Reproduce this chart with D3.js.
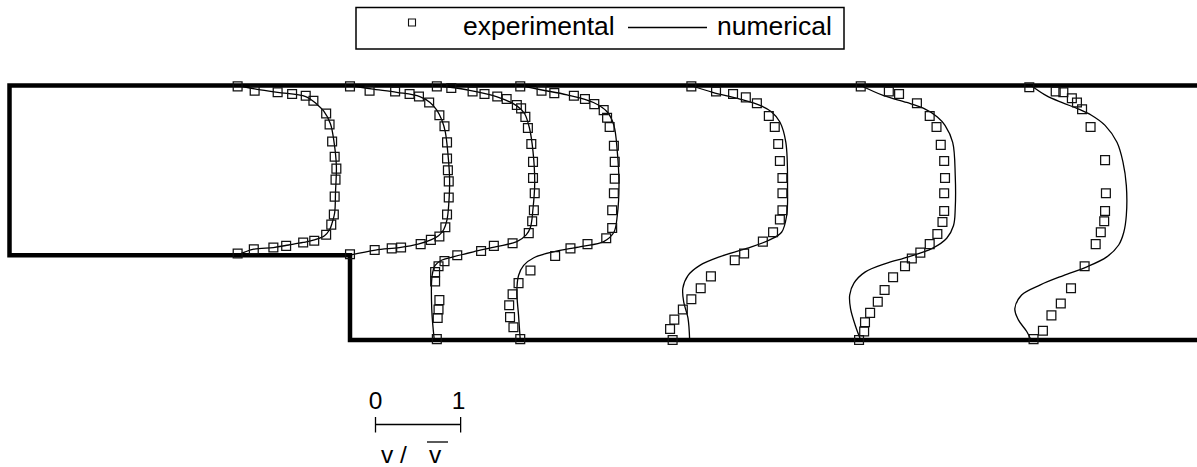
<!DOCTYPE html>
<html>
<head>
<meta charset="utf-8">
<script src="https://cdn.jsdelivr.net/npm/d3@7"></script>
<style>
  html, body { margin: 0; padding: 0; background: #fff; }
  svg { display: block; font-family: "Liberation Sans", Arial, Helvetica, sans-serif; }
</style>
</head>
<body>
<svg id="chart" width="1197" height="467"></svg>
<script>
// Backward-facing step: stream-wise velocity profiles v / v̄ at several stations.
// Lengths are in step heights h; the step edge is at x = 0, the lower wall at y = 0.

const channelOutline = [[10, 3], [-4, 3], [-4, 1], [0, 1], [0, 0], [10, 0]];

// measurement stations x/h
const stations = [-1.32, 0, 1.02, 2, 4, 6, 8];

// experimental points, [y/h, v/v̄]
const exp1 = [[2.99,0],[2.94,0.2],[2.92,0.47],[2.9,0.64],[2.88,0.8],[2.82,0.89],[2.67,1.04],[2.54,1.08],[2.34,1.11],[2.16,1.14],[2.02,1.16],[1.89,1.15],[1.69,1.14],[1.48,1.13],[1.36,1.1],[1.24,1.04],[1.17,0.9],[1.15,0.77],[1.11,0.57],[1.09,0.42],[1.07,0.19],[1.02,0]];
const exp2 = [[2.99,0],[2.94,0.23],[2.93,0.53],[2.9,0.7],[2.87,0.81],[2.8,0.93],[2.65,1.05],[2.52,1.11],[2.33,1.14],[2.14,1.14],[2.0,1.15],[1.87,1.16],[1.68,1.16],[1.48,1.14],[1.33,1.12],[1.22,1.05],[1.18,0.95],[1.13,0.83],[1.09,0.6],[1.08,0.49],[1.06,0.29],[1.01,0]];
const exp3 = [[2.99,0],[2.97,0.17],[2.93,0.42],[2.9,0.56],[2.87,0.71],[2.84,0.82],[2.77,0.94],[2.73,0.99],[2.63,1.04],[2.5,1.07],[2.31,1.11],[2.1,1.13],[1.91,1.13],[1.73,1.15],[1.53,1.14],[1.4,1.12],[1.26,1.08],[1.14,0.89],[1.11,0.67],[1.05,0.52],[1.0,0.24],[0.93,0.09],[0.87,0.02],[0.8,-0.02],[0.69,-0.02],[0.47,0.03],[0.36,0.02],[0.26,0.01],[0.01,0]];
const exp4 = [[2.99,0],[2.94,0.25],[2.91,0.4],[2.88,0.63],[2.84,0.76],[2.78,0.87],[2.71,0.98],[2.62,1.02],[2.51,1.05],[2.29,1.1],[2.1,1.11],[1.9,1.11],[1.73,1.1],[1.53,1.08],[1.32,1.08],[1.2,1.01],[1.13,0.79],[1.08,0.59],[0.99,0.41],[0.82,0.12],[0.67,-0.02],[0.54,-0.09],[0.41,-0.13],[0.27,-0.12],[0.15,-0.08],[0.01,0]];
const exp5 = [[2.99,0.01],[2.93,0.3],[2.9,0.5],[2.86,0.65],[2.79,0.78],[2.64,0.92],[2.51,0.99],[2.31,1.03],[2.11,1.05],[1.91,1.08],[1.73,1.08],[1.53,1.08],[1.42,1.05],[1.27,0.97],[1.16,0.85],[1.02,0.63],[0.94,0.52],[0.75,0.24],[0.61,0.12],[0.48,0.01],[0.36,-0.09],[0.24,-0.19],[0.13,-0.24],[0.0,-0.21]];
const exp6 = [[2.99,0],[2.93,0.33],[2.9,0.45],[2.79,0.66],[2.64,0.81],[2.51,0.89],[2.3,0.94],[2.11,0.98],[1.91,0.99],[1.73,0.98],[1.52,0.98],[1.39,0.96],[1.25,0.9],[1.13,0.81],[1.03,0.7],[0.96,0.6],[0.87,0.52],[0.74,0.38],[0.59,0.28],[0.45,0.2],[0.32,0.11],[0.21,0.05],[0.1,0.04],[0.0,-0.02]];
const exp7 = [[2.98,-0.02],[2.93,0.29],[2.92,0.38],[2.85,0.48],[2.8,0.54],[2.72,0.6],[2.51,0.7],[2.12,0.87],[1.73,0.88],[1.52,0.87],[1.4,0.86],[1.27,0.82],[1.13,0.76],[0.87,0.63],[0.61,0.47],[0.43,0.35],[0.29,0.24],[0.11,0.14],[0.01,0.03]];

// numerical profiles, [y/h, v/v̄]
const num1 = [[3,0],[2.96,0.2],[2.92,0.47],[2.87,0.8],[2.78,0.93],[2.7,1.01],[2.55,1.09],[2.35,1.13],[2.05,1.16],[1.75,1.15],[1.5,1.14],[1.38,1.11],[1.3,1.08],[1.23,1.02],[1.18,0.9],[1.15,0.77],[1.12,0.6],[1.09,0.42],[1.07,0.19],[1,0]];
const num2 = [[3,0],[2.96,0.25],[2.92,0.55],[2.87,0.82],[2.8,0.94],[2.71,1.02],[2.59,1.08],[2.45,1.12],[2.2,1.15],[1.9,1.17],[1.6,1.16],[1.42,1.14],[1.3,1.1],[1.23,1.04],[1.18,0.95],[1.13,0.8],[1.09,0.58],[1.06,0.3],[1,0]];
const num3 = [[3,0],[2.95,0.35],[2.87,0.7],[2.76,0.94],[2.67,1.03],[2.49,1.09],[2.22,1.13],[1.86,1.15],[1.55,1.13],[1.33,1.1],[1.24,1.05],[1.16,0.94],[1.1,0.7],[1.04,0.43],[0.98,0.19],[0.94,0.055],[0.88,-0.02],[0.76,-0.055],[0.37,-0.06],[0,-0.03]];
const num4 = [[3,0],[2.95,0.24],[2.89,0.55],[2.8,0.86],[2.69,1.02],[2.53,1.1],[2.22,1.14],[1.82,1.16],[1.47,1.14],[1.27,1.1],[1.16,0.98],[1.1,0.71],[1.04,0.39],[0.97,0.16],[0.88,0.04],[0.76,-0.02],[0.57,-0.04],[0.29,-0.02],[0,0]];
const num5 = [[3,0],[2.92,0.26],[2.84,0.58],[2.76,0.83],[2.69,0.95],[2.57,1.05],[2.33,1.12],[1.78,1.14],[1.47,1.13],[1.27,1.07],[1.18,0.93],[1.08,0.66],[0.98,0.34],[0.88,0.11],[0.76,-0.03],[0.61,-0.09],[0.45,-0.08],[0.26,-0.03],[0,-0.01]];
const num6 = [[3,0],[2.88,0.27],[2.8,0.54],[2.73,0.74],[2.63,0.9],[2.53,0.99],[2.33,1.08],[1.94,1.11],[1.55,1.11],[1.35,1.09],[1.2,1.01],[1.08,0.84],[0.98,0.56],[0.9,0.29],[0.8,0.05],[0.67,-0.08],[0.53,-0.13],[0.37,-0.12],[0.16,-0.06],[0,0]];
const num7 = [[3,0],[2.88,0.18],[2.8,0.36],[2.73,0.54],[2.65,0.71],[2.53,0.87],[2.33,1.01],[2.1,1.08],[1.82,1.12],[1.47,1.12],[1.27,1.09],[1.12,1.03],[0.98,0.89],[0.86,0.65],[0.76,0.38],[0.65,0.11],[0.53,-0.11],[0.37,-0.19],[0.24,-0.15],[0.1,-0.05],[0,0]];

const legendLabels = ["experimental", "numerical"];
const scaleTicks = [0, 1];
const scaleTitle = ["v /", "v"];

const experimental = [exp1, exp2, exp3, exp4, exp5, exp6, exp7];
const numerical = [num1, num2, num3, num4, num5, num6, num7];

const svg = d3.select("#chart");

// one scale for x/h and for the velocity offsets, one for y/h
const xScale = d3.scaleLinear().domain([0, 8]).range([350, 1031]);
const yScale = d3.scaleLinear().domain([0, 3]).range([340, 85.5]);

// channel walls
svg.append("path")
  .attr("d", d3.line().x(d => xScale(d[0])).y(d => yScale(d[1]))(channelOutline))
  .attr("fill", "none")
  .attr("stroke", "#000")
  .attr("stroke-width", 4.5)
  .attr("stroke-linejoin", "miter");

// numerical curves
const profileLine = st => d3.line()
  .x(d => xScale(st + d[1]))
  .y(d => yScale(d[0]))
  .curve(d3.curveCatmullRom.alpha(0.5));

svg.append("g").selectAll("path")
  .data(numerical)
  .join("path")
  .attr("d", (d, i) => profileLine(stations[i])(d))
  .attr("fill", "none")
  .attr("stroke", "#000")
  .attr("stroke-width", 1.3);

// experimental points
const square = d3.symbol().type(d3.symbolSquare).size(78);
experimental.forEach((pts, i) => {
  svg.append("g").selectAll("path")
    .data(pts)
    .join("path")
    .attr("d", square)
    .attr("transform", d => `translate(${xScale(stations[i] + d[1])},${yScale(d[0])})`)
    .attr("fill", "none")
    .attr("stroke", "#111")
    .attr("stroke-width", 1.25);
});

// legend
const legend = svg.append("g");
legend.append("rect")
  .attr("x", 356).attr("y", 7.5).attr("width", 488).attr("height", 41.5)
  .attr("fill", "#fff").attr("stroke", "#000").attr("stroke-width", 1.5);
legend.append("path")
  .attr("d", d3.symbol().type(d3.symbolSquare).size(49)())
  .attr("transform", "translate(412,22.5)")
  .attr("fill", "none").attr("stroke", "#111").attr("stroke-width", 1.1);
legend.append("text")
  .attr("x", 463).attr("y", 35)
  .attr("font-size", 26.5).attr("fill", "#000")
  .text(legendLabels[0]);
legend.append("line")
  .attr("x1", 628).attr("x2", 707).attr("y1", 27.5).attr("y2", 27.5)
  .attr("stroke", "#000").attr("stroke-width", 1.3);
legend.append("text")
  .attr("x", 717).attr("y", 35)
  .attr("font-size", 26.5).attr("fill", "#000")
  .text(legendLabels[1]);

// velocity scale bar: one unit of v / v̄
const unit = xScale(1) - xScale(0);
const barScale = d3.scaleLinear().domain([0, 1]).range([375.5, 375.5 + unit]);
const bar = svg.append("g");
bar.append("line")
  .attr("x1", barScale(0)).attr("x2", barScale(1))
  .attr("y1", 424.5).attr("y2", 424.5)
  .attr("stroke", "#000").attr("stroke-width", 1.3);
bar.selectAll("line.tick")
  .data(scaleTicks)
  .join("line")
  .attr("class", "tick")
  .attr("x1", d => barScale(d)).attr("x2", d => barScale(d))
  .attr("y1", 417).attr("y2", 432.5)
  .attr("stroke", "#000").attr("stroke-width", 1.3);
bar.selectAll("text.tick")
  .data(scaleTicks)
  .join("text")
  .attr("class", "tick")
  .attr("x", d => barScale(d) + (d === 1 ? -2 : 0))
  .attr("y", 409)
  .attr("text-anchor", "middle")
  .attr("font-size", 24.5)
  .text(d => d);
bar.append("text")
  .attr("x", 381).attr("y", 463)
  .attr("font-size", 24.5)
  .text(scaleTitle[0]);
bar.append("text")
  .attr("x", 429).attr("y", 463)
  .attr("font-size", 24.5)
  .text(scaleTitle[1]);
bar.append("line")
  .attr("x1", 427).attr("x2", 448)
  .attr("y1", 442).attr("y2", 442)
  .attr("stroke", "#000").attr("stroke-width", 1.3);
</script>
</body>
</html>
